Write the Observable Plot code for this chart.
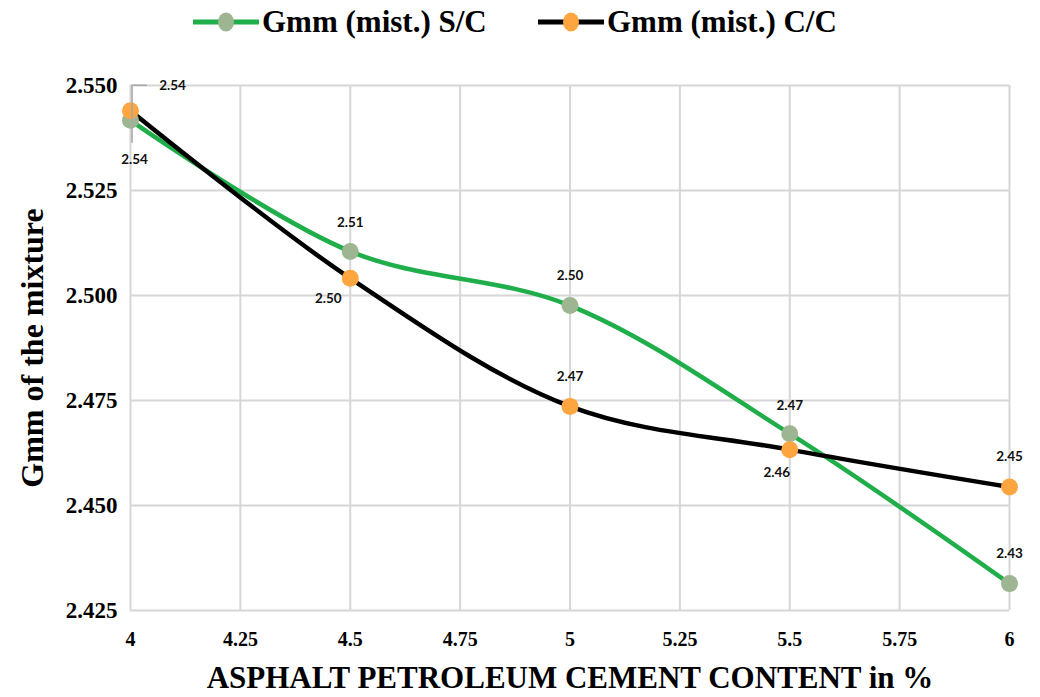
<!DOCTYPE html>
<html>
<head>
<meta charset="utf-8">
<script src="https://cdn.jsdelivr.net/npm/d3@7"></script>
<script src="https://cdn.jsdelivr.net/npm/@observablehq/plot@0.6"></script>
<style>
  body { margin: 0; background: #fff; }
  #wrap { position: relative; width: 1040px; height: 697px; overflow: hidden; }
  #chart { position: absolute; left: 0; top: 0; }
  .legend-item { position: absolute; top: 4px; height: 36px; display: flex; align-items: center;
    font: bold 31px "Liberation Serif", "Times New Roman", serif; color: #000; white-space: nowrap; }
  .legend-item svg { display: block; margin-right: 3px; }
</style>
</head>
<body>
<div id="wrap">
  <div id="chart"></div>
</div>
<script>
// Asphalt content (%) and maximum theoretical specific gravity of the mix
const asphaltContent = [4, 4.5, 5, 5.5, 6];
const gmmSC = [2.5417, 2.5105, 2.4976, 2.4671, 2.4314];
const gmmCC = [2.5440, 2.5041, 2.4736, 2.4633, 2.4544];
const seriesNames = ["Gmm (mist.) S/C", "Gmm (mist.) C/C"];

const xTicks = [4, 4.25, 4.5, 4.75, 5, 5.25, 5.5, 5.75, 6];
const xTickLabels = ["4", "4.25", "4.5", "4.75", "5", "5.25", "5.5", "5.75", "6"];
const yTicks = [2.425, 2.45, 2.475, 2.5, 2.525, 2.55];
const yTickLabels = ["2.425", "2.450", "2.475", "2.500", "2.525", "2.550"];
const xTitle = "ASPHALT PETROLEUM CEMENT CONTENT in %";
const yTitle = "Gmm of the mixture";

const lineColors = ["#1fae4a", "#000000"];
const dotColors = ["#9db590", "#ffa540"];

// pixel offsets of each value label from its point
const labelOffsets = [
  [[4, 39], [0, -29], [0, -30], [0, -28], [0, -30]],
  [[42, -25], [-22, 20], [0, -30], [-13, 23], [0, -30]]
];

const serif = "'Liberation Serif', 'Times New Roman', serif";
const fmt = d3.format(".2f");
const series = [gmmSC, gmmCC];
const rows = series.map(vals => asphaltContent.map((x, i) => ({x, y: vals[i], i})));

const marks = [
  Plot.gridX(xTicks, {stroke: "#d6d6d6", strokeOpacity: 1, strokeWidth: 2}),
  Plot.gridY(yTicks, {stroke: "#d6d6d6", strokeOpacity: 1, strokeWidth: 2}),
  // tick labels
  Plot.text(xTicks, {x: d => d, text: (d, i) => xTickLabels[i], frameAnchor: "bottom", dy: 35,
    fontSize: 20, fontWeight: "bold", fontFamily: serif, fontVariant: "normal", fill: "#000"}),
  Plot.text(yTicks, {y: d => d, text: (d, i) => yTickLabels[i], frameAnchor: "left", textAnchor: "end", dx: -13,
    fontSize: 23, fontWeight: "bold", fontFamily: serif, fontVariant: "normal", fill: "#000"}),
  // axis titles
  Plot.text([xTitle], {frameAnchor: "bottom", dy: 77, fontSize: 31, fontWeight: "bold", fill: "#000"}),
  Plot.text([yTitle], {frameAnchor: "left", textAnchor: "middle", dx: -98, rotate: -90, fontSize: 32, fontWeight: "bold", fill: "#000"})
];

// smoothed lines
rows.forEach((r, s) => {
  marks.push(Plot.line(r, {x: "x", y: "y", curve: "catmull-rom", stroke: lineColors[s], strokeWidth: 4.5}));
});
// markers
rows.forEach((r, s) => {
  marks.push(Plot.dot(r, {x: "x", y: "y", r: 8.5, fill: dotColors[s], stroke: "none"}));
});
// value labels
rows.forEach((r, s) => {
  r.forEach((d, i) => {
    marks.push(Plot.text([d], {x: "x", y: "y", text: d => fmt(d.y), dx: labelOffsets[s][i][0], dy: labelOffsets[s][i][1],
      fontSize: 13.5, fontWeight: "bold", fontFamily: "Lato, 'DejaVu Sans', sans-serif", fill: "#111"}));
  });
});

const chart = Plot.plot({
  width: 1040,
  height: 697,
  marginLeft: 130,
  marginRight: 31,
  marginTop: 85,
  marginBottom: 87,
  x: {domain: [4, 6], axis: null},
  y: {domain: [2.425, 2.55], axis: null},
  style: {background: "#fff", overflow: "visible", fontFamily: serif},
  marks
});
document.getElementById("chart").appendChild(chart);

// leader lines for the two labels at the first point
const sx = chart.scale("x"), sy = chart.scale("y");
const px = sx.apply(asphaltContent[0]);
const pyCC = sy.apply(gmmCC[0]);
const pySC = sy.apply(gmmSC[0]);
d3.select(chart).append("path")
  .attr("d", `M${px + 17},${pyCC - 25}H${px + 2}V${pySC + 23}`)
  .attr("fill", "none").attr("stroke", "#a8a8a8").attr("stroke-width", 1.6);

// legend
const wrap = document.getElementById("wrap");
const legendLeft = [193, 538];
seriesNames.forEach((name, s) => {
  const item = document.createElement("div");
  item.className = "legend-item";
  item.style.left = legendLeft[s] + "px";
  item.innerHTML = `<svg width="66" height="36"><line x1="0" x2="66" y1="18" y2="18" stroke="${lineColors[s]}" stroke-width="5"/>` +
    `<ellipse cx="33" cy="18" rx="8" ry="9.5" fill="${dotColors[s]}"/></svg>`;
  const span = document.createElement("span");
  span.textContent = name;
  item.appendChild(span);
  wrap.appendChild(item);
});
</script>
</body>
</html>
